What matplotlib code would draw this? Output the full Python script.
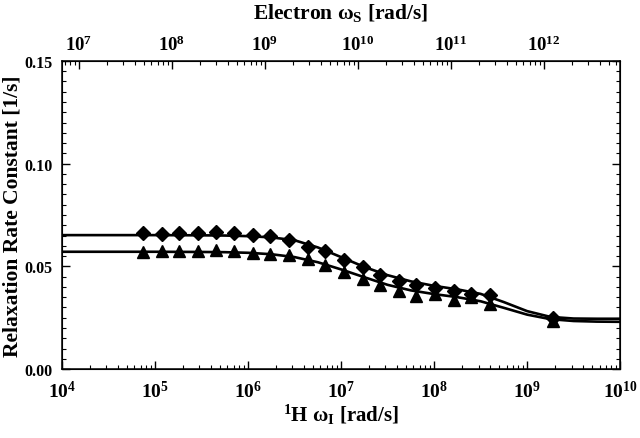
import numpy as np
import matplotlib
matplotlib.use("Agg")
import matplotlib.pyplot as plt
from matplotlib.ticker import FixedLocator, MultipleLocator, NullFormatter

# ---- data ----
# measured points: log10 of 1H angular frequency [rad/s]
diamond_logw = [4.87, 5.07, 5.26, 5.46, 5.66, 5.85, 6.05, 6.24, 6.44, 6.64,
                6.83, 7.03, 7.23, 7.42, 7.62, 7.81, 8.01, 8.21, 8.40, 8.60, 9.28]
diamond_R = [0.0662, 0.0658, 0.0662, 0.0660, 0.0667, 0.0661, 0.0653, 0.0648, 0.0627, 0.0592,
             0.0577, 0.0531, 0.0495, 0.0456, 0.0430, 0.0408, 0.0396, 0.0378, 0.0365, 0.0362, 0.0248]

triangle_logw = [4.87, 5.07, 5.26, 5.46, 5.66, 5.85, 6.05, 6.24, 6.44, 6.64,
                 6.83, 7.03, 7.23, 7.42, 7.62, 7.81, 8.01, 8.21, 8.40, 8.60, 9.28]
triangle_R = [0.0571, 0.0576, 0.0576, 0.0576, 0.0582, 0.0576, 0.0565, 0.0558, 0.0556, 0.0535,
              0.0507, 0.0474, 0.0437, 0.0407, 0.0378, 0.0357, 0.0367, 0.0337, 0.0349, 0.0316, 0.0235]

# fitted curves
curve_logw = [4.0, 4.5, 5.0, 5.5, 5.75, 6.0, 6.25, 6.5, 6.75, 7.0, 7.25, 7.5, 7.75,
              8.0, 8.25, 8.5, 8.75, 9.0, 9.25, 9.5, 9.75, 10.0]
curve_diamond = [0.0652, 0.0652, 0.0652, 0.0651, 0.0650, 0.0647, 0.0641, 0.0627, 0.0592, 0.0545,
                 0.0497, 0.0457, 0.0427, 0.0405, 0.0388, 0.0366, 0.0326, 0.0282, 0.0254, 0.0246,
                 0.0245, 0.0245]
curve_triangle = [0.0571, 0.0571, 0.0571, 0.0570, 0.0569, 0.0566, 0.0559, 0.0545, 0.0520, 0.0485,
                  0.0447, 0.0410, 0.0383, 0.0365, 0.0350, 0.0330, 0.0298, 0.0265, 0.0243, 0.0234,
                  0.0231, 0.0230]

gamma_ratio = 658.0  # electron / proton
xlim = (1e4, 1e10)
ylim = (0.0, 0.15)
bottom_exponents = [4, 5, 6, 7, 8, 9, 10]
top_exponents = [7, 8, 9, 10, 11, 12]
ytick_values = [0.0, 0.05, 0.10, 0.15]
ytick_labels = ["0.00", "0.05", "0.10", "0.15"]

plt.rcParams['font.family'] = ['Liberation Serif', 'DejaVu Serif']
plt.rcParams['font.weight'] = 'bold'
plt.rcParams['mathtext.fontset'] = 'custom'
plt.rcParams['mathtext.rm'] = 'Liberation Serif:bold'
plt.rcParams['mathtext.it'] = 'Liberation Serif:bold'
plt.rcParams['mathtext.bf'] = 'Liberation Serif:bold'


def minor_positions(lo, hi):
    out = []
    for e in range(int(np.floor(np.log10(lo))) - 1, int(np.ceil(np.log10(hi))) + 1):
        for m in range(2, 10):
            v = m * 10.0 ** e
            if lo < v < hi:
                out.append(v)
    return out


fig = plt.figure(figsize=(6.4, 4.39), dpi=100)
ax = fig.add_axes([0.097, 0.157, 0.872, 0.702])

to_w = lambda l: [10 ** v for v in l]
ax.plot(to_w(curve_logw), curve_diamond, color='black', lw=1.9, zorder=2)
ax.plot(to_w(curve_logw), curve_triangle, color='black', lw=1.9, zorder=2)
ax.plot(to_w(diamond_logw), diamond_R, linestyle='none', marker='D', ms=6.8,
        color='black', zorder=3)
ax.plot(to_w(triangle_logw), triangle_R, linestyle='none', marker='^', ms=8.5,
        color='black', zorder=3)

ax.set_xscale('log')
ax.set_xlim(*xlim)
ax.set_ylim(*ylim)
ax.set_xticks([10.0 ** e for e in bottom_exponents])
ax.set_xticklabels([r'$\mathbf{10^{%d}}$' % e for e in bottom_exponents])
ax.xaxis.set_minor_locator(FixedLocator(minor_positions(*xlim)))
ax.xaxis.set_minor_formatter(NullFormatter())
ax.yaxis.set_minor_locator(MultipleLocator(0.005))
ax.set_yticks(ytick_values)
ax.set_yticklabels(ytick_labels)

for s in ax.spines.values():
    s.set_linewidth(1.1)

ax.tick_params(axis='x', which='both', direction='in', top=False, bottom=True)
ax.tick_params(axis='y', which='both', direction='in', left=True, right=True)
ax.tick_params(which='major', length=6, width=1.0)
ax.tick_params(which='minor', length=3, width=0.8)
ax.tick_params(axis='x', which='major', labelsize=14, pad=8)
ax.tick_params(axis='y', which='major', labelsize=11.5, pad=7)
for lab in ax.get_yticklabels():
    lab.set_fontweight('bold')

ax.set_xlabel(r'$^{\mathbf{1}}$H $\omega_{\mathbf{I}}$ [rad/s]', fontsize=15, fontweight='bold', labelpad=0)
ax.set_ylabel('Relaxation Rate Constant [1/s]', fontsize=15.5, fontweight='bold')
ax.yaxis.set_label_coords(-0.071, 0.5)

ax2 = ax.twiny()
ax2.set_xscale('log')
top_lim = (xlim[0] * gamma_ratio, xlim[1] * gamma_ratio)
ax2.set_xlim(*top_lim)
ax2.set_xticks([10.0 ** e for e in top_exponents])
ax2.set_xticklabels([r'$\mathbf{10^{%d}}$' % e for e in top_exponents])
ax2.xaxis.set_minor_locator(FixedLocator(minor_positions(*top_lim)))
ax2.xaxis.set_minor_formatter(NullFormatter())
ax2.tick_params(axis='x', which='both', direction='in', top=True, bottom=False)
ax2.tick_params(which='major', length=6, width=1.0, labelsize=13.5, pad=5)
ax2.tick_params(which='minor', length=3, width=0.8)
ax2.set_xlabel(r'Electron $\omega_{\mathbf{S}}$ [rad/s]', fontsize=15.5, fontweight='bold', labelpad=12)

fig.savefig('out.png', dpi=100)
